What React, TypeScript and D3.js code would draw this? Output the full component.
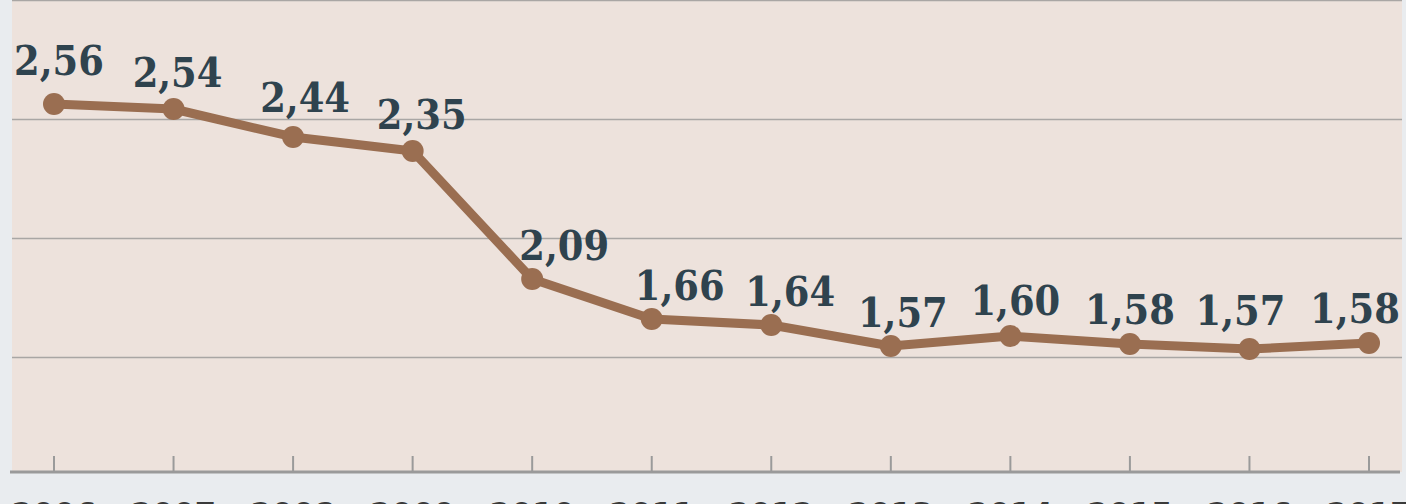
import React, { useEffect } from "react";
import * as d3 from "d3";

const years = ["2006", "2007", "2008", "2009", "2010", "2011", "2012", "2013", "2014", "2015", "2016", "2017"];
const labelValues = [2.56, 2.54, 2.44, 2.35, 2.09, 1.66, 1.64, 1.57, 1.6, 1.58, 1.57, 1.58];
// plotted height of each point, in grid units (gridlines at 1, 2, 3, 4)
const lineLevels = [3.126, 3.084, 2.849, 2.731, 1.655, 1.319, 1.269, 1.092, 1.176, 1.109, 1.067, 1.118];
const gridLevels = [1, 2, 3, 4];
const labelDx = [5, 4, 12, 9, 32, 28, 19, 12, 5, 0, -9, -14];
const labelDy = [-29, -22, -25, -22, -19, -19, -19, -19, -21, -20, -24, -20];

const W = 1406;
const H = 504;
const plot = { left: 12, right: 1402, top: 0, bottom: 472 };

export default function App() {
  useEffect(() => {
    document.body.style.margin = "0";
  }, []);

  const x = d3.scalePoint<string>().domain(years).range([54, 1369]);
  const y = d3.scaleLinear().domain([0, 4]).range([476, 0]);
  const line = d3
    .line<number>()
    .x((_, i) => x(years[i]) as number)
    .y((d) => y(d));
  const fmt = (v: number) => d3.format(".2f")(v).replace(".", ",");

  return (
    <svg width={W} height={H} style={{ display: "block" }}>
      <rect x={0} y={0} width={W} height={H} fill="#e9ecef" />
      <rect x={plot.left} y={plot.top} width={plot.right - plot.left} height={plot.bottom - plot.top} fill="#ede2dc" />
      {gridLevels.map((g) => (
        <line key={g} x1={plot.left} x2={plot.right} y1={y(g) + 0.5} y2={y(g) + 0.5} stroke="#a9a6a4" strokeWidth={1.5} />
      ))}
      <line x1={plot.left - 2} x2={plot.right - 2} y1={plot.bottom} y2={plot.bottom} stroke="#9a9a9a" strokeWidth={3} />
      {years.map((yr) => (
        <line key={yr} x1={x(yr)} x2={x(yr)} y1={plot.bottom - 16} y2={plot.bottom} stroke="#9a9a9a" strokeWidth={2} />
      ))}
      {years.map((yr) => (
        <text
          key={"t" + yr}
          x={x(yr)}
          y={527}
          textAnchor="middle"
          fontFamily="'DejaVu Sans', sans-serif"
          fontWeight="bold"
          fontSize={34}
          fill="#3a3a3a"
          style={{ fontStretch: "condensed" }}
        >
          {yr}
        </text>
      ))}
      <path d={line(lineLevels) || ""} fill="none" stroke="#9a6e51" strokeWidth={9} strokeLinejoin="round" />
      {lineLevels.map((v, i) => (
        <circle key={"c" + i} cx={x(years[i])} cy={y(v)} r={11} fill="#9a6e51" />
      ))}
      {labelValues.map((v, i) => (
        <text
          key={"l" + i}
          x={(x(years[i]) as number) + labelDx[i]}
          y={y(lineLevels[i]) + labelDy[i]}
          textAnchor="middle"
          fontFamily="'DejaVu Serif Condensed', 'DejaVu Serif', serif"
          fontWeight="bold"
          fontSize={41}
          fill="#2f434e"
          style={{ fontStretch: "condensed" }}
        >
          {fmt(v)}
        </text>
      ))}
    </svg>
  );
}
